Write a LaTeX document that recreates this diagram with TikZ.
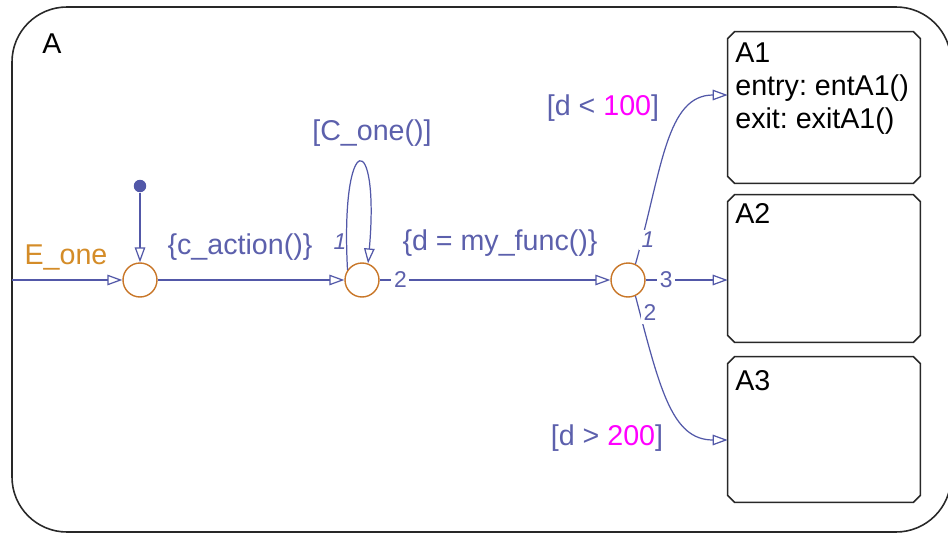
\documentclass[tikz,border=0pt]{standalone}
\usepackage{fontspec}
\setmainfont{Liberation Sans}
\usetikzlibrary{arrows.meta}
\definecolor{transblue}{RGB}{82,88,168}
\definecolor{labelblue}{RGB}{92,96,172}
\definecolor{junctorange}{RGB}{200,118,40}
\definecolor{eventorange}{RGB}{212,140,40}
\definecolor{statedark}{RGB}{40,40,40}
\definecolor{condmag}{RGB}{255,0,255}
\frenchspacing

\begin{document}
\begin{tikzpicture}[x=0.02cm, y=-0.02cm, font=\fontsize{16.3}{18.8}\selectfont,
  >={Triangle[open,length=8.5pt,width=6pt]},
  trans/.style={->, draw=transblue, line width=0.7pt},
  junction/.style={circle, draw=junctorange, line width=0.8pt, minimum size=0.68cm, inner sep=0pt},
  statebox/.style={rectangle, minimum width=3.84cm, inner sep=0pt},
  stateline/.style={draw=statedark, line width=0.9pt},
  lbl/.style={text=labelblue, inner sep=1pt},
  num/.style={text=labelblue, fill=white, inner sep=1.5pt, font=\fontsize{13}{15}\selectfont},
  numit/.style={text=labelblue, inner sep=1pt, font=\fontsize{13}{15}\selectfont\itshape},
  title/.style={anchor=north west, inner sep=0pt, align=left, text=black}]
\useasboundingbox (0,0) rectangle (948,534);
% outer state A
\draw[stateline, rounded corners=1.1cm] (12,7) rectangle (951,532);
\node[title] (tA) at (42,33) {A};
% substates
\node[statebox, minimum height=3.02cm] (a1) at (824,107.5) {};
\node[statebox, minimum height=2.94cm] (a2) at (824,268.5) {};
\node[statebox, minimum height=2.90cm] (a3) at (824,429.5) {};
\foreach \s in {a1,a2,a3}
  \draw[stateline] ([xshift=0.14cm]\s.north west) -- ([xshift=-0.14cm]\s.north east)
    -- ([yshift=-0.14cm]\s.north east) -- ([yshift=0.14cm]\s.south east)
    -- ([xshift=-0.14cm]\s.south east) -- ([xshift=0.14cm]\s.south west)
    -- ([yshift=0.14cm]\s.south west) -- ([yshift=-0.14cm]\s.north west) -- cycle;
\node[title] (t1) at (735,42) {A1\\entry: entA1()\\exit: exitA1()};
\node[title] (t2) at (735,203) {A2};
\node[title] (t3) at (735,370) {A3};
% junctions
\node[junction] (j1) at (140,280) {};
\node[junction] (j2) at (362,280) {};
\node[junction] (j3) at (628,280) {};
\node[circle, fill=transblue, minimum size=0.25cm, inner sep=0pt] (dflt) at (140,186) {};
\coordinate (ein) at (12,280);
% transitions
\draw[trans] (ein) -- (j1);
\draw[trans] (dflt) -- (j1);
\draw[trans] (j1) -- (j2);
\draw[trans] (j2.145) .. controls (340,128) and (380,128) .. (j2.70);
\draw[trans] (j2) -- node[num, pos=0.09] (n2) {2} (j3);
\draw[trans] (j3) -- node[num, pos=0.25] (n3) {3} (j3 -| a2.west);
\draw[trans] (j3.65) .. controls (662,170) and (666,95) .. ([yshift=0.25cm]a1.west);
\draw[trans] (j3.-65) .. controls (660,390) and (672,440) .. ([yshift=-0.21cm]a3.west);
\node[num, font=\fontsize{13}{15}\selectfont\itshape] (n1) at (648,240) {1};
\node[num] (n4) at (650,313) {2};
\node[numit] (nloop) at (340,242) {1};
% labels
\node[lbl, text=eventorange] (ename) at (66,257) {E\_one};
\node[lbl] (cact) at (240,247) {\{c\_action()\}};
\node[lbl] (cone) at (372,133) {[C\_one()]};
\node[lbl] (dfun) at (500,243) {\{d = my\_func()\}};
\node[lbl] (dlow) at (603,108) {[d < \textcolor{condmag}{100}]};
\node[lbl] (dhigh) at (607,438) {[d > \textcolor{condmag}{200}]};
\end{tikzpicture}
\end{document}
